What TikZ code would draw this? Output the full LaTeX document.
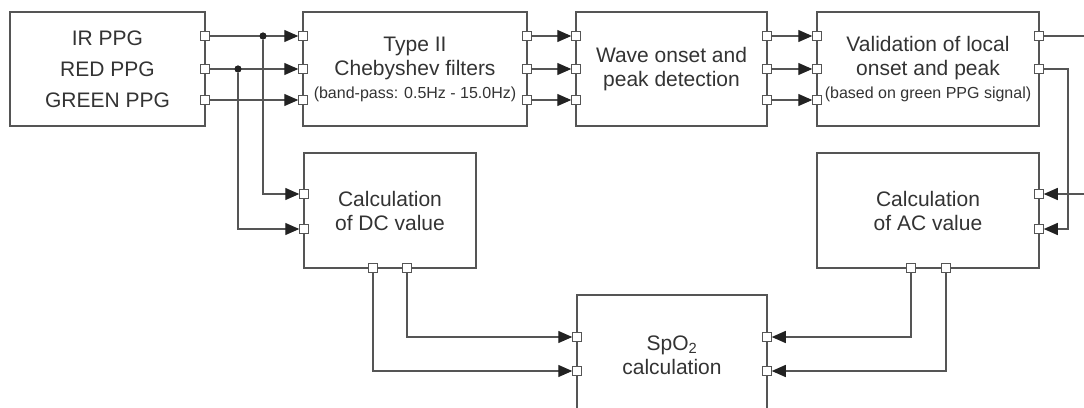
\documentclass[tikz,border=0pt]{standalone}
\usepackage{fontspec}
\setmainfont{Liberation Sans}
\usetikzlibrary{arrows.meta}
\definecolor{ln}{RGB}{85,85,85}
\definecolor{tx}{RGB}{51,51,51}
\definecolor{ah}{RGB}{34,34,34}
\begin{document}
\begin{tikzpicture}[x=1pt,y=-1pt,
 box/.style={draw=ln, line width=1.3pt, rectangle, inner sep=0pt, text=tx, align=center, font=\fontsize{21}{24}\selectfont},
 port/.style={draw=ln, fill=white, line width=1pt, rectangle, minimum size=8.5pt, inner sep=0pt},
 wire/.style={draw=ln, line width=1.3pt},
 arr/.style={wire, -{Triangle[length=14pt,width=12pt,color=ah]}},
 jdot/.style={circle, fill=ah, minimum size=7pt, inner sep=0pt}]
\useasboundingbox (0,0) rectangle (1084,407);
\clip (0,0) rectangle (1084,407);
% boxes
\node[box, minimum width=195pt, minimum height=114pt, font=\fontsize{21}{31}\selectfont] (in) at (107.5,69) {IR PPG\\RED PPG\\GREEN PPG};
\node[box, minimum width=224pt, minimum height=114pt] (cheb) at (415,69) {Type II\\Chebyshev filters\\[-1pt]{\fontsize{16}{19}\selectfont (band-pass: 0.5Hz - 15.0Hz)}};
\node[box, minimum width=191pt, minimum height=114pt] (wave) at (671.5,69) {Wave onset and\\peak detection};
\node[box, minimum width=222pt, minimum height=114pt] (valid) at (928,69) {Validation of local\\onset and peak\\[-1pt]{\fontsize{16}{19}\selectfont (based on green PPG signal)}};
\node[box, minimum width=172pt, minimum height=115pt] (dc) at (390,210.5) {Calculation\\of DC value};
\node[box, minimum width=222pt, minimum height=115pt] (ac) at (928,210.5) {Calculation\\of AC value};
\node[box, minimum width=190pt, minimum height=120pt] (spo) at (672,355) {SpO\textsubscript{2}\\calculation};
% ports
\foreach \n/\y in {1/36,2/69,3/100}{
  \node[port] (inR\n) at (205,\y) {};
  \node[port] (chebL\n) at (303,\y) {};
  \node[port] (chebR\n) at (527,\y) {};
  \node[port] (waveL\n) at (576,\y) {};
  \node[port] (waveR\n) at (767,\y) {};
  \node[port] (validL\n) at (817,\y) {};
}
\node[port] (validR1) at (1039,36) {};
\node[port] (validR2) at (1039,69) {};
\node[port] (dcL1) at (304,194) {};
\node[port] (dcL2) at (304,229) {};
\node[port] (dcB1) at (373,268) {};
\node[port] (dcB2) at (407,268) {};
\node[port] (acR1) at (1039,194) {};
\node[port] (acR2) at (1039,229) {};
\node[port] (acB1) at (911,268) {};
\node[port] (acB2) at (946,268) {};
\node[port] (spoL1) at (577,337) {};
\node[port] (spoL2) at (577,371) {};
\node[port] (spoR1) at (767,337) {};
\node[port] (spoR2) at (767,371) {};
% junctions and free ends
\node[jdot] (d1) at (263,36) {};
\node[jdot] (d2) at (238,69) {};
\coordinate (e1) at (1095,36);
\coordinate (e2) at (1095,194);
\coordinate (k1) at (1068,69);
% wires
\foreach \n in {1,2,3}{
  \draw[arr] (inR\n) -- (chebL\n);
  \draw[arr] (chebR\n) -- (waveL\n);
  \draw[arr] (waveR\n) -- (validL\n);
}
\draw[arr] (d1) |- (dcL1);
\draw[arr] (d2) |- (dcL2);
\draw[wire] (validR1) -- (e1);
\draw[arr] (validR2) -- (k1) |- (acR2);
\draw[arr] (e2) -- (acR1);
\draw[arr] (dcB2) |- (spoL1);
\draw[arr] (dcB1) |- (spoL2);
\draw[arr] (acB1) |- (spoR1);
\draw[arr] (acB2) |- (spoR2);
\node[jdot] at (d1) {};
\node[jdot] at (d2) {};
\end{tikzpicture}
\end{document}
